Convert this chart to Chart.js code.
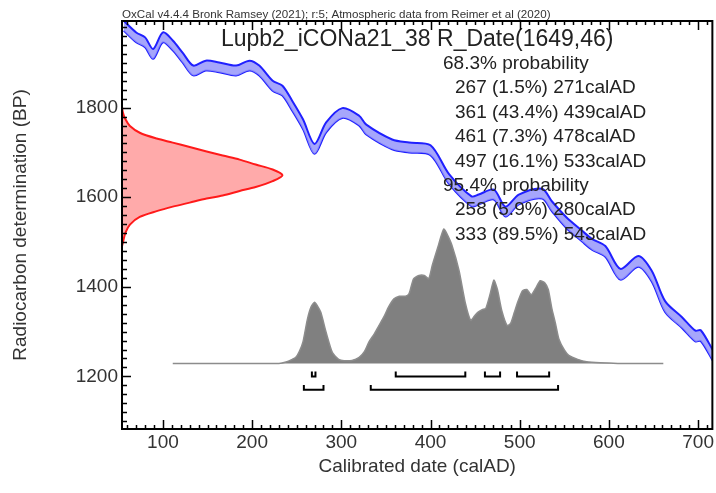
<!DOCTYPE html>
<html>
<head>
<meta charset="utf-8">
<style>
  html, body { margin: 0; padding: 0; background: #fff; }
</style>
<script src="https://cdn.jsdelivr.net/npm/chart.js@4.4.1/dist/chart.umd.min.js"></script>
</head>
<body>
<canvas id="myChart" width="716" height="493"></canvas>
<script>
// calibration curve, calAD -> BP (mid line and 1 sigma)
const curveYears = [56, 70, 80, 89, 100, 111, 122, 134, 148, 163, 182, 197, 208, 223, 234, 245, 257, 270, 283, 301, 320, 328, 357, 376, 400, 421, 446, 454, 471, 484, 499, 525, 536, 552, 570, 581, 596, 613, 633, 648, 663, 682, 697, 703, 717];
const curveBP = [1983, 1957, 1946, 1920, 1957, 1939, 1912, 1883, 1894, 1890, 1883, 1894, 1883, 1849, 1838, 1804, 1763, 1708, 1756, 1788, 1771, 1751, 1718, 1711, 1705, 1640, 1591, 1595, 1606, 1568, 1595, 1608, 1580, 1544, 1513, 1495, 1479, 1428, 1457, 1424, 1356, 1320, 1290, 1291, 1245];
const curveErr = [11, 11, 11, 11, 11, 11, 11, 11, 11, 11, 11, 11, 11, 11, 11, 11, 11, 11, 11, 11, 11, 11, 11, 11, 11, 11, 11, 11, 11, 11, 11, 11, 11, 12, 12, 12, 12, 12, 12, 12, 12, 12, 12, 12, 12];

// radiocarbon measurement 1649 +/- 46 BP, drawn from the y axis
const dateBP = [1805, 1790, 1774, 1759, 1744, 1731, 1722, 1712, 1702, 1693, 1684, 1673, 1662, 1649, 1636, 1623, 1614, 1604, 1597, 1588, 1579, 1569, 1556, 1539, 1521, 1498, 1490];
const dateX = [54, 55, 58, 63, 74, 93, 111, 130, 149, 167, 186, 204, 223, 234, 223, 204, 186, 167, 149, 130, 111, 93, 74, 63, 58, 55, 54];

// calibrated probability distribution
const histYears = [111, 230, 238, 245, 249, 253, 257, 262, 266, 270, 273, 277, 283, 290, 297, 303, 312, 320, 326, 331, 337, 342, 348, 353, 359, 365, 372, 376, 381, 387, 393, 398, 402, 408, 412, 415, 418, 424, 432, 439, 445, 449, 453, 458, 462, 467, 471, 475, 480, 486, 490, 494, 498, 503, 508, 513, 518, 523, 528, 532, 536, 540, 544, 550, 555, 565, 575, 590, 610, 661];
const histProb = [0, 0, 0.01, 0.03, 0.045, 0.09, 0.16, 0.33, 0.42, 0.455, 0.43, 0.38, 0.23, 0.08, 0.03, 0.02, 0.022, 0.045, 0.09, 0.16, 0.22, 0.28, 0.35, 0.42, 0.48, 0.5, 0.5, 0.52, 0.63, 0.655, 0.655, 0.63, 0.73, 0.86, 0.95, 1.0, 0.97, 0.88, 0.69, 0.45, 0.32, 0.35, 0.38, 0.4, 0.41, 0.52, 0.62, 0.55, 0.39, 0.28, 0.3, 0.38, 0.46, 0.54, 0.55, 0.51, 0.56, 0.615, 0.6, 0.55, 0.41, 0.3, 0.18, 0.1, 0.06, 0.03, 0.012, 0.004, 0, 0];

// ranges
const range68Start = [267, 361, 461, 497];
const range68End = [271, 439, 478, 533];
const range95Start = [258, 333];
const range95End = [280, 543];

const rangeText = [
  '68.3% probability',
  '267 (1.5%) 271calAD',
  '361 (43.4%) 439calAD',
  '461 (7.3%) 478calAD',
  '497 (16.1%) 533calAD',
  '95.4% probability',
  '258 (5.9%) 280calAD',
  '333 (89.5%) 543calAD'
];

const xTickLabels = [100, 200, 300, 400, 500, 600, 700];
const yTickLabels = [1200, 1400, 1600, 1800];

const FONT = '"Liberation Sans", Arial, sans-serif';
const histBase = 1229;
const histScale = 300;

const upper = curveYears.map((v, i) => ({x: v, y: curveBP[i] + curveErr[i]}));
const lower = curveYears.map((v, i) => ({x: v, y: curveBP[i] - curveErr[i]}));
const datePts = dateBP.map((v, i) => ({x: dateX[i], y: v}));
const histPts = histYears.map((v, i) => ({x: v, y: histBase + histProb[i] * histScale}));

function brackets(starts, ends, row) {
  const pts = [];
  starts.forEach((s, i) => {
    pts.push({x: s, y: row + 11}, {x: s, y: row}, {x: ends[i], y: row}, {x: ends[i], y: row + 11});
    pts.push({x: null, y: null});
  });
  return pts;
}
const bracketPts = brackets(range68Start, range68End, 1200).concat(brackets(range95Start, range95End, 1170));

// frame, inward ticks and texts
const oxcalDecor = {
  id: 'oxcalDecor',
  afterDatasetsDraw(chart) {
    const {ctx, chartArea: a, scales: {x, y}} = chart;
    ctx.save();
    ctx.fillStyle = '#222';
    ctx.font = '23px ' + FONT;
    ctx.textAlign = 'center';
    ctx.textBaseline = 'alphabetic';
    ctx.fillText('Lupb2_iCONa21_38 R_Date(1649,46)', (a.left + a.right) / 2, 46);
    ctx.textAlign = 'left';
    ctx.font = '19px ' + FONT;
    rangeText.forEach((t, i) => {
      const head = t.indexOf('probability') > 0;
      ctx.fillText(t, head ? 443 : 455, 69 + i * 24.4);
    });
    ctx.font = '11.6px ' + FONT;
    ctx.fillStyle = '#333';
    ctx.fillText('OxCal v4.4.4 Bronk Ramsey (2021); r:5; Atmospheric data from Reimer et al (2020)', a.left, 18);

    ctx.strokeStyle = '#000';
    ctx.lineWidth = 2;
    ctx.strokeRect(a.left, a.top, a.right - a.left, a.bottom - a.top);
    ctx.lineWidth = 1.5;
    ctx.beginPath();
    for (let v = 60; v <= 710; v += 10) {
      const px = Math.round(x.getPixelForValue(v)) + 0.5;
      const len = v % 100 === 0 ? 9 : 4;
      ctx.moveTo(px, a.bottom); ctx.lineTo(px, a.bottom - len);
      ctx.moveTo(px, a.top); ctx.lineTo(px, a.top + len);
    }
    for (let v = 1100; v <= 1980; v += 20) {
      const py = Math.round(y.getPixelForValue(v)) + 0.5;
      const len = v % 200 === 0 ? 9 : 5;
      ctx.moveTo(a.left, py); ctx.lineTo(a.left + len, py);
    }
    ctx.stroke();
    ctx.restore();
  }
};

const config = {
  type: 'line',
  data: {
    datasets: [
      {
        data: bracketPts,
        borderColor: '#000',
        borderWidth: 2,
        pointRadius: 0,
        fill: false,
        spanGaps: false
      },
      {
        data: upper,
        borderColor: '#2020ff',
        backgroundColor: 'rgba(150,150,250,0.85)',
        borderWidth: 2,
        pointRadius: 0,
        tension: 0.3,
        fill: '+1'
      },
      {
        data: lower,
        borderColor: '#2020ff',
        borderWidth: 2,
        pointRadius: 0,
        tension: 0.3,
        fill: false
      },
      {
        data: datePts,
        borderColor: '#ff1a1a',
        backgroundColor: '#ffaaaa',
        borderWidth: 2,
        pointRadius: 0,
        tension: 0.3,
        fill: 'shape'
      },
      {
        data: histPts,
        borderColor: '#8c8c8c',
        backgroundColor: '#808080',
        borderWidth: 1.5,
        pointRadius: 0,
        tension: 0.2,
        fill: {value: histBase}
      }
    ]
  },
  options: {
    responsive: false,
    animation: false,
    events: [],
    layout: {padding: {top: 21, right: 2, left: 0, bottom: 0}},
    plugins: {legend: {display: false}, tooltip: {enabled: false}},
    scales: {
      x: {
        type: 'linear',
        min: 54.1,
        max: 716,
        afterFit: (s) => { s.height = 64; },
        afterBuildTicks: (s) => { s.ticks = xTickLabels.map(v => ({value: v})); },
        grid: {display: false, drawTicks: false},
        border: {display: false},
        ticks: {color: '#333', font: {family: FONT, size: 19}, padding: 2, autoSkip: false, maxRotation: 0, callback: (v) => String(v)},
        title: {display: true, text: 'Calibrated date (calAD)', color: '#333', font: {family: FONT, size: 19}, padding: {bottom: 15, top: 0}}
      },
      y: {
        type: 'linear',
        min: 1082.5,
        max: 1993.5,
        afterFit: (s) => { s.width = 122; },
        afterBuildTicks: (s) => { s.ticks = yTickLabels.map(v => ({value: v})); },
        grid: {display: false, drawTicks: false},
        border: {display: false},
        ticks: {color: '#333', font: {family: FONT, size: 19}, padding: 4, autoSkip: false, callback: (v) => String(v)},
        title: {display: true, text: 'Radiocarbon determination (BP)', color: '#333', font: {family: FONT, size: 19}, padding: {top: 9, bottom: 0}}
      }
    }
  },
  plugins: [oxcalDecor]
};

const myChart = new Chart(document.getElementById('myChart'), config);
</script>
</body>
</html>
